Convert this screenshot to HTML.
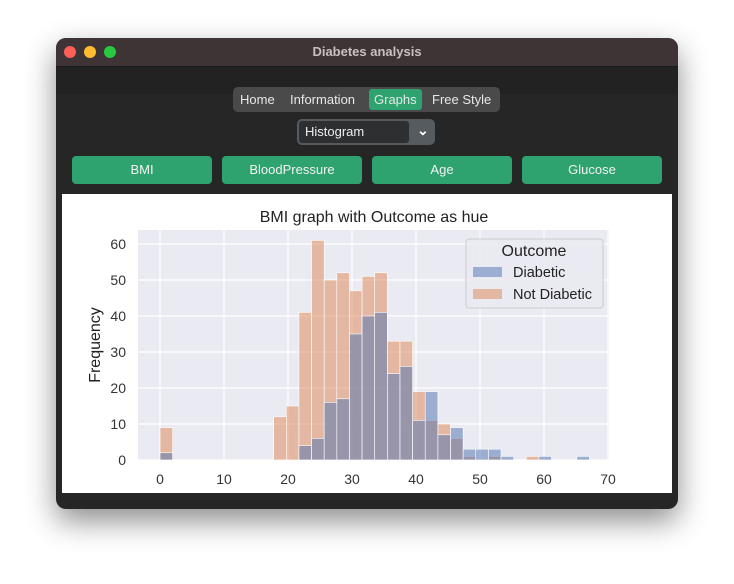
<!DOCTYPE html>
<html><head><meta charset="utf-8"><style>
body{margin:0;width:734px;height:584px;background:#fff;font-family:"Liberation Sans",sans-serif;position:relative;overflow:hidden}
.win{position:absolute;left:56px;top:38px;width:622px;height:471px;border-radius:10px;background:#262626;box-shadow:0 12px 30px rgba(0,0,0,.45);overflow:hidden}
.tb{position:absolute;left:0;top:0;width:622px;height:28px;background:#3e3436;border-bottom:1px solid #1a1a1a;color:#c9bfc1;font-weight:bold;font-size:13px;text-align:center;line-height:28px}
.dot{position:absolute;top:8px;width:12px;height:12px;border-radius:50%}
.nav{position:absolute;left:177px;top:49px;width:267px;height:25px;background:#4a4a4a;border-radius:5px;font-size:13px;color:#e8e8e8}
.nav span{position:absolute;top:5px}
.btn{position:absolute;top:118px;width:140px;height:28px;background:#2ea36f;border-radius:4px;color:#f2f2f2;font-size:13px;text-align:center;line-height:28px}
</style></head><body>
<div class="win">
<div class="tb">Diabetes analysis
<div class="dot" style="left:8px;background:#fe5f57"></div>
<div class="dot" style="left:28px;background:#febc2e"></div>
<div class="dot" style="left:48px;background:#28c840"></div>
</div>
<div style="position:absolute;left:0;top:29px;width:622px;height:27px;background:#222"></div>
<div class="nav">
<span style="left:7px">Home</span>
<span style="left:57px">Information</span>
<span style="left:136px;top:2px;background:#2ea36f;padding:3px 5px;border-radius:3px">Graphs</span>
<span style="left:199px">Free Style</span>
</div>
<div style="position:absolute;left:241px;top:81px;width:138px;height:26px;border-radius:5px;background:#555b5f">
<div style="position:absolute;left:2px;top:2px;width:110px;height:22px;background:#2d2f31;border-radius:3px;color:#eee;font-size:13px;line-height:22px;padding-left:6px;box-sizing:border-box">Histogram</div>
<div style="position:absolute;left:120px;top:3px;color:#fff;font-size:14px;font-weight:bold">&#8964;</div>
</div>
<div class="btn" style="left:16px">BMI</div>
<div class="btn" style="left:166px">BloodPressure</div>
<div class="btn" style="left:316px">Age</div>
<div class="btn" style="left:466px">Glucose</div>
<div style="position:absolute;left:6px;top:156px;width:610px;height:299px;background:#fff"></div>
</div>
<svg id="ch" width="734" height="584" style="position:absolute;left:0;top:0"></svg>
<script>
const binWidth=67.1/34;
const diabetic=[2,0,0,0,0,0,0,0,0,0,0,4,6,16,17,35,40,41,24,26,11,19,7,9,3,3,3,1,0,0,1,0,0,1];
const notDiabetic=[9,0,0,0,0,0,0,0,0,12,15,41,61,50,52,47,51,52,33,33,19,11,10,6,1,0,1,0,0,1,0,0,0,0];
const xTicks=[0,10,20,30,40,50,60,70];
const yTicks=[0,10,20,30,40,50,60];
const NS='http://www.w3.org/2000/svg';
const svg=document.getElementById('ch');
const X=v=>160+v*6.4, Y=v=>460-v*3.6;
function mk(t,a,p){const e=document.createElementNS(NS,t);for(const k in a)e.setAttribute(k,a[k]);(p||svg).appendChild(e);return e;}
const bg=mk('rect',{x:138,y:230,width:471,height:230,fill:'#eaeaf2'});


xTicks.forEach(t=>{mk('line',{x1:X(t),x2:X(t),y1:230,y2:460,stroke:'#fff','stroke-width':1.2});
const tx=mk('text',{x:X(t),y:484,'text-anchor':'middle','font-size':14,fill:'#333'});tx.textContent=t;

});
yTicks.forEach(t=>{mk('line',{x1:138,x2:609,y1:Y(t),y2:Y(t),stroke:'#fff','stroke-width':1.2});
const tx=mk('text',{x:126,y:Y(t)+5,'text-anchor':'end','font-size':14,fill:'#333'});tx.textContent=t;

});
function bars(arr,col,name){arr.forEach((v,i)=>{if(!v)return;const x0=X(i*binWidth),x1=X((i+1)*binWidth);
const r=mk('rect',{x:x0,y:Y(v),width:x1-x0,height:Y(0)-Y(v),fill:col,stroke:'#fff','stroke-width':0.6});

});}
bars(notDiabetic,'rgba(221,132,82,0.5)','bar-not-diabetic');
bars(diabetic,'rgba(76,114,176,0.5)','bar-diabetic');
const ti=mk('text',{x:374,y:222,'text-anchor':'middle','font-size':16,fill:'#222'});ti.textContent='BMI graph with Outcome as hue';


const yl=mk('text',{x:100,y:345,'text-anchor':'middle','font-size':16,fill:'#222',transform:'rotate(-90 100 345)'});yl.textContent='Frequency';


const lg=mk('g',{});


mk('rect',{x:466,y:239,width:137,height:69,rx:3,fill:'#eaeaf2',stroke:'#ccc','fill-opacity':0.9},lg);
let t=mk('text',{x:534,y:256,'text-anchor':'middle','font-size':16,fill:'#222'},lg);t.textContent='Outcome';
mk('rect',{x:473,y:267,width:29,height:10,fill:'rgba(76,114,176,0.5)'},lg);
t=mk('text',{x:513,y:277,'font-size':14.5,fill:'#222'},lg);t.textContent='Diabetic';
mk('rect',{x:473,y:289,width:29,height:10,fill:'rgba(221,132,82,0.5)'},lg);
t=mk('text',{x:513,y:299,'font-size':14.5,fill:'#222'},lg);t.textContent='Not Diabetic';
</script>
</body></html>
